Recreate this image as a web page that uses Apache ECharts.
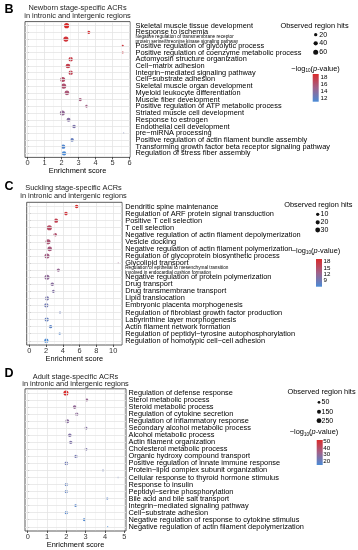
<!DOCTYPE html>
<html><head><meta charset="utf-8">
<style>html,body{margin:0;padding:0;background:#fff}#c{width:358px;height:550px}</style>
<script src="https://cdn.jsdelivr.net/npm/echarts@6/dist/echarts.min.js"></script>
</head><body><div id="c"></div>
<script>
// ---------------- DATA ----------------
const catsB = [
  "Skeletal muscle tissue development","Response to ischemia",
  "Negative regulation of transmembrane receptor\nprotein serine/threonine kinase signaling pathway",
  "Positive regulation of glycolytic process","Positive regulation of coenzyme metabolic process",
  "Actomyosin structure organization","Cell\u2212matrix adhesion","Integrin\u2212mediated signaling pathway",
  "Cell\u2212substrate adhesion","Skeletal muscle organ development","Myeloid leukocyte differentiation",
  "Muscle fiber development","Positive regulation of ATP metabolic process","Striated muscle cell development",
  "Response to estrogen","Endothelial cell development","pre\u2212miRNA processing",
  "Positive regulation of actin filament bundle assembly",
  "Transforming growth factor beta receptor signaling pathway","Regulation of stress fiber assembly"];
const enrichB = [2.3,3.6,2.26,5.6,5.6,2.54,2.38,2.54,2.07,2.13,2.32,3.1,3.48,2.05,2.42,2.74,5.66,2.62,2.1,2.15];
const logpB   = [18.8,18.5,18.2,18.0,17.8,17.6,17.3,17.0,16.2,15.9,15.6,15.3,15.0,14.2,13.6,13.2,12.6,12.2,11.3,10.9];
const hitsB   = [62,20,62,7,7,42,50,42,60,60,50,20,15,60,34,26,4,26,42,42];

const catsC = [
  "Dendritic spine maintenance","Regulation of ARF protein signal transduction","Positive T cell selection",
  "T cell selection","Negative regulation of actin filament depolymerization","Vesicle docking",
  "Negative regulation of actin filament polymerization","Regulation of glycoprotein biosynthetic process",
  "Glycolipid transport",
  "Regulation of epithelial to mesenchymal transition\ninvolved in endocardial cushion formation",
  "Negative regulation of protein polymerization","Drug transport","Drug transmembrane transport",
  "Lipid translocation","Embryonic placenta morphogenesis","Regulation of fibroblast growth factor production",
  "Labyrinthine layer morphogenesis","Actin filament network formation",
  "Regulation of peptidyl\u2212tyrosine autophosphorylation","Regulation of homotypic cell\u2212cell adhesion"];
const enrichC = [5.65,4.38,3.19,2.4,3.1,2.24,2.44,2.12,10.6,3.47,2.12,2.75,2.9,2.12,2.04,3.67,2.08,2.55,3.63,2.04];
const logpC   = [19.2,18.0,16.6,15.2,14.6,14.0,13.5,13.0,12.5,12.0,11.4,10.9,10.3,9.6,9.0,8.5,8.0,7.4,6.8,6.1];
const hitsC   = [13,13,22,34,13,33,26,33,1,10,33,13,10,18,22,3,22,10,3,22];

const catsD = [
  "Regulation of defense response","Sterol metabolic process","Steroid metabolic process",
  "Regulation of cytokine secretion","Regulation of inflammatory response","Secondary alcohol metabolic process",
  "Alcohol metabolic process","Actin filament organization","Cholesterol metabolic process",
  "Organic hydroxy compound transport","Positive regulation of innate immune response",
  "Protein\u2212lipid complex subunit organization","Cellular response to thyroid hormone stimulus",
  "Response to insulin","Peptidyl\u2212serine phosphorylation","Bile acid and bile salt transport",
  "Integrin\u2212mediated signaling pathway","Cell\u2212substrate adhesion",
  "Negative regulation of response to cytokine stimulus","Negative regulation of actin filament depolymerization"];
const enrichD = [1.98,3.06,2.43,2.54,2.05,3.02,2.18,2.23,3.02,2.5,2.0,3.9,4.68,2.0,2.0,4.12,2.49,2.0,2.93,4.14];
const logpD   = [52.3,31,30,29,28,27,26,25.5,25,23,22,21,20.5,19,18.5,17.5,16.8,16,15,13.8];
const hitsD   = [290,59,114,88,145,59,114,88,59,88,114,15,12,88,88,27,59,88,59,10];

const xTicksB = [0,1,2,3,4,5,6];
const xTicksC = [0,2,4,6,8,10];
const xTicksD = [0,1,2,3,4,5];
const sizeKeysB = [20,40,60];
const sizeKeysC = [10,20,30];
const sizeKeysD = [50,150,250];
const colorTicksB = [18,16,14,12];
const colorTicksC = [18,15,12,9];
const colorTicksD = [50,40,30,20];

// ---------------- STYLE ----------------
const FONT = '"Liberation Sans", Arial, Helvetica, sans-serif';
const LOW = '#4a8bd6', MID = '#a0628a', HIGH = '#da2b2b';
const SMIN = 1.3, SMAX = 5.1;
function sizeFn(h, lo, hi){ return SMIN + (SMAX - SMIN) * Math.sqrt(Math.max(0,(h - lo)) / (hi - lo)); }

const panels = [
  {letter:'B', title:['Newborn stage-specific ACRs','in intronic and intergenic regions'],
   cats:catsB, enrich:enrichB, logp:logpB, hits:hitsB, ticks:xTicksB,
   box:{left:25, top:21.6, width:105, height:135.8}, xmin:-0.147, xmax:6.03, labelMargin:5.5,
   letterY:10, titleY:[7.6,15.9], titleX:77.5,
   sizeLeg:{titleX:314.5, titleY:25.5, dotX:315.7, labX:319.3, ys:[34.7,43.3,52.3]}, sizeKeys:sizeKeysB,
   colLeg:{titleX:315.5, titleY:69, barX:312.7, barY:74, barW:6, barH:27.7, labX:320.6}, colorTicks:colorTicksB},
  {letter:'C', title:['Suckling stage-specific ACRs','in intronic and intergenic regions'],
   cats:catsC, enrich:enrichC, logp:logpC, hits:hitsC, ticks:xTicksC,
   box:{left:26.7, top:202.3, width:95.3, height:142.7}, xmin:-0.3, xmax:11.05, labelMargin:3.2,
   letterY:186.5, titleY:[188.3,196], titleX:73.5,
   sizeLeg:{titleX:318.3, titleY:205, dotX:317.7, labX:320.5, ys:[214.3,222.3,230]}, sizeKeys:sizeKeysC,
   colLeg:{titleX:316, titleY:251, barX:316, barY:259, barW:6, barH:27.7, labX:323.6}, colorTicks:colorTicksC},
  {letter:'D', title:['Adult stage-specific ACRs','in intronic and intergenic regions'],
   cats:catsD, enrich:enrichD, logp:logpD, hits:hitsD, ticks:xTicksD,
   box:{left:25, top:388.8, width:101, height:142.2}, xmin:-0.14, xmax:5.09, labelMargin:2.5,
   letterY:373.5, titleY:[376.8,384], titleX:75.5,
   sizeLeg:{titleX:321.5, titleY:392.3, dotX:319, labX:321.5, ys:[402.3,411.7,420.7]}, sizeKeys:sizeKeysD,
   colLeg:{titleX:314, titleY:432.3, barX:316.7, barY:440, barW:6, barH:25, labX:323.3}, colorTicks:colorTicksD}
];

const option = {animation:false, grid:[], xAxis:[], yAxis:[], series:[], visualMap:[], graphic:{elements:[]}};
const G = option.graphic.elements;

function txt(x, y, text, size, opts){
  opts = opts || {};
  return {type:'text', x:x, y:y, silent:true, z:10, style:Object.assign({
    text:text, fill:opts.fill||'#000', fontSize:size, fontFamily:FONT, fontWeight:opts.weight||'normal',
    align:opts.align||'center', textAlign:opts.align||'center',
    verticalAlign:'middle', textVerticalAlign:'middle'}, opts.extra||{})};
}

panels.forEach((p, i) => {
  const n = p.cats.length;
  const b = p.box;
  // ggplot-style discrete expansion of 0.6 on each side; ECharts bands give 0.5
  const step = b.height / (n + 0.2);
  const inner = {left:b.left, width:b.width, top:b.top + 0.1 * step, height:n * step};
  option.grid.push(Object.assign({show:false, containLabel:false, outerBoundsMode:'none'}, inner));
  const bottomGap = (b.top + b.height) - (inner.top + inner.height);
  // panel border
  G.push({type:'rect', silent:true, z:5, shape:{x:b.left, y:b.top, width:b.width, height:b.height},
    style:{fill:null, stroke:'#333', lineWidth:0.8}});

  option.xAxis.push({gridIndex:i, type:'value', min:p.xmin, max:p.xmax,
    axisLine:{show:false},
    axisTick:{show:true, length:2 + bottomGap, customValues:p.ticks, lineStyle:{color:'#333', width:0.8}},
    axisLabel:{customValues:p.ticks, margin:2.3 + bottomGap, fontSize:7.4, color:'#333', fontFamily:FONT, showMinLabel:true, showMaxLabel:true},
    splitLine:{show:false},
    name:'Enrichment score', nameLocation:'middle', nameGap:10.5 + bottomGap,
    nameTextStyle:{fontSize:7.4, color:'#000', fontFamily:FONT}});
  option.yAxis.push({gridIndex:i, type:'category', data:p.cats, inverse:true, position:'right', boundaryGap:true,
    axisLine:{show:false},
    axisTick:{show:true, length:1.5, alignWithLabel:true, interval:0, lineStyle:{color:'#333', width:0.8}},
    axisLabel:{interval:0, margin:p.labelMargin, fontSize:7.4, color:'#000', fontFamily:FONT,
      formatter:(s) => s.indexOf('\n') >= 0 ? s.split('\n').map(t => '{s|' + t + '}').join('\n') : s,
      rich:{s:{fontSize:4.7, lineHeight:4.9, color:'#000', fontFamily:FONT}}},
    splitLine:{show:false}});

  // grid lines (through axis scales)
  const ml = [];
  p.ticks.forEach(t => ml.push({xAxis:t, lineStyle:{color:'#e4e4e4', width:0.8, type:'solid'}}));
  for (let k = 0; k < p.ticks.length; k++) {
    const a = p.ticks[k], c = (k+1 < p.ticks.length) ? p.ticks[k+1] : p.ticks[k] + (p.ticks[1]-p.ticks[0]);
    const m = (a + c) / 2; if (m <= p.xmax) ml.push({xAxis:m, lineStyle:{color:'#efefef', width:0.5, type:'solid'}});
  }
  p.cats.forEach(c => ml.push({yAxis:c, lineStyle:{color:'#e4e4e4', width:0.8, type:'solid'}}));
  option.series.push({type:'scatter', xAxisIndex:i, yAxisIndex:i, data:[], silent:true, z:1,
    markLine:{silent:true, symbol:['none','none'], label:{show:false}, animation:false, data:ml}});

  const lo = Math.min(...p.hits), hi = Math.max(...p.hits);
  const rows = p.cats.map((c, k) => [p.enrich[k], k, p.logp[k], p.hits[k]]);
  const sIdx = option.series.length;
  option.series.push({type:'scatter', xAxisIndex:i, yAxisIndex:i, data:rows, z:3, silent:true,
    symbolSize:(v) => sizeFn(v[3], lo, hi), itemStyle:{opacity:1}});
  const cmin = Math.min(...p.logp), cmax = Math.max(...p.logp);
  option.visualMap.push({type:'continuous', show:false, seriesIndex:sIdx, dimension:2, min:cmin, max:cmax,
    inRange:{color:[LOW, MID, HIGH]}});

  // letter & titles
  G.push(txt(9, p.letterY, p.letter, 12.5, {weight:'bold'}));
  G.push(txt(p.titleX, p.titleY[0], p.title[0], 7.4, {fill:'#222'}));
  G.push(txt(p.titleX, p.titleY[1], p.title[1], 7.4, {fill:'#222'}));

  // size legend
  const sl = p.sizeLeg;
  G.push(txt(sl.titleX, sl.titleY, 'Observed region hits', 7.4));
  p.sizeKeys.forEach((h, k) => {
    const d = sizeFn(h, lo, hi);
    G.push({type:'circle', silent:true, z:10, shape:{cx:sl.dotX, cy:sl.ys[k], r:d/2}, style:{fill:'#111'}});
    G.push(txt(sl.labX, sl.ys[k], String(h), 7, {align:'left'}));
  });

  // color legend
  const cl = p.colLeg;
  G.push(txt(cl.titleX, cl.titleY, '{a|\u2212log}{b|10}{a|(}{c|p}{a|-value)}', 7.4, {extra:{rich:{
    a:{fontSize:7.4, fontFamily:FONT, fill:'#000', lineHeight:9},
    b:{fontSize:4.6, fontFamily:FONT, fill:'#000', lineHeight:4, verticalAlign:'bottom'},
    c:{fontSize:7.4, fontFamily:FONT, fill:'#000', fontStyle:'italic', lineHeight:9}}}}));
  G.push({type:'rect', silent:true, z:10, shape:{x:cl.barX, y:cl.barY, width:cl.barW, height:cl.barH},
    style:{fill:{type:'linear', x:0, y:0, x2:0, y2:1, colorStops:[{offset:0,color:HIGH},{offset:0.5,color:MID},{offset:1,color:LOW}]}}});
  p.colorTicks.forEach(t => {
    const y = cl.barY + (cmax - t) / (cmax - cmin) * cl.barH;
    G.push(txt(cl.labX, y, String(t), 6.2, {align:'left'}));
  });
});

const chart = echarts.init(document.getElementById('c'), null, {renderer:'canvas'});
chart.setOption(option);
</script>
</body></html>
